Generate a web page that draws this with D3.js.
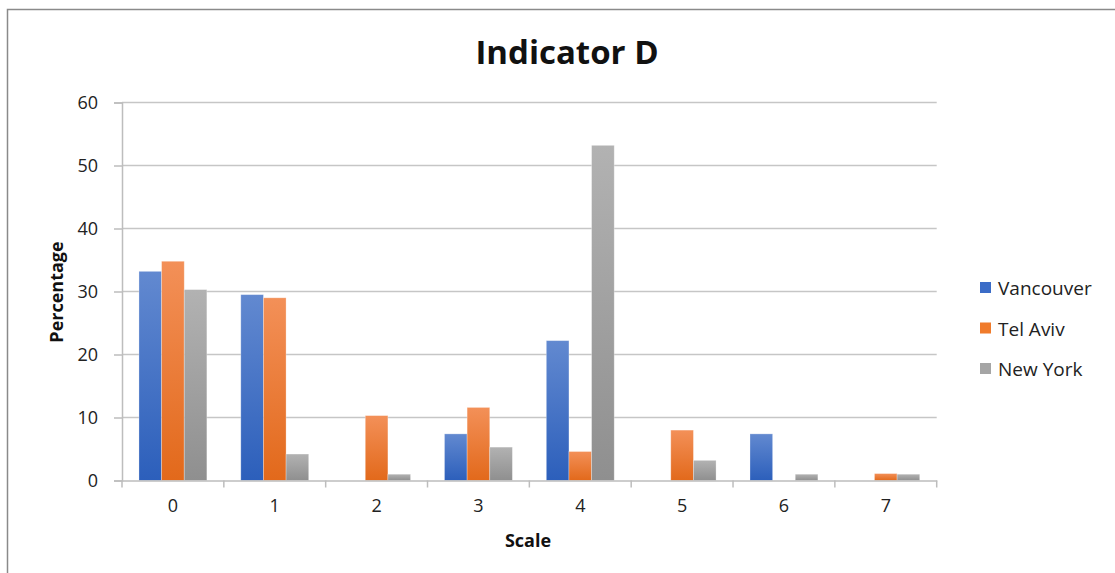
<!DOCTYPE html>
<html><head><meta charset="utf-8">
<script src="https://cdn.jsdelivr.net/npm/d3@7"></script>
<style>body{margin:0;background:#fff;}svg{display:block;}</style>
</head><body>
<svg id="chart" width="1115" height="573"></svg>
<script>
const categories = ["0","1","2","3","4","5","6","7"];
const seriesNames = ["Vancouver","Tel Aviv","New York"];
const vancouver = [33.2, 29.5, 0, 7.4, 22.2, 0, 7.4, 0];
const telAviv   = [34.8, 29.0, 10.3, 11.6, 4.6, 8.0, 0, 1.1];
const newYork   = [30.3, 4.2, 1.0, 5.3, 53.2, 3.2, 1.0, 1.0];
const yTicks = [0,10,20,30,40,50,60];

const seriesValues = [vancouver, telAviv, newYork];
const gradStops = [["#6289d0","#2c5fbb"],["#f39058","#e2691b"],["#b2b2b2","#8f8f8f"]];
const legendColors = ["#3b6cc7","#f07b2b","#a5a5a5"];

const svg = d3.select("#chart");
const font = "'Open Sans', sans-serif";
const L = 122, R = 936.7, T = 102.5, B = 480.5;

// border
svg.append("path").attr("d", `M7.5,573 V9.5 H1115`).attr("fill","none").attr("stroke","#8a8a8a").attr("stroke-width",1.5);

const defs = svg.append("defs");
gradStops.forEach((g,i)=>{
  const lg = defs.append("linearGradient").attr("id","g"+i).attr("x1",0).attr("y1",0).attr("x2",0).attr("y2",1);
  lg.append("stop").attr("offset","0%").attr("stop-color",g[0]);
  lg.append("stop").attr("offset","100%").attr("stop-color",g[1]);
});

const x = d3.scaleBand().domain(categories).range([L,R]).padding(0);
const y = d3.scaleLinear().domain([0,60]).range([B,T]);
const bw = x.bandwidth()/4.5;
const xs = d3.scaleBand().domain(seriesNames).range([0.75*bw, 3.75*bw]).padding(0);

// gridlines
svg.append("g").selectAll("line").data(yTicks.filter(d=>d>0)).join("line")
  .attr("x1",L).attr("x2",R).attr("y1",d=>y(d)).attr("y2",d=>y(d))
  .attr("stroke","#c6c6c6").attr("stroke-width",1.5);

// bars
seriesNames.forEach((s,i)=>{
  svg.append("g").selectAll("rect").data(categories).join("rect")
    .attr("x",(c)=>x(c)+xs(s))
    .attr("width",xs.bandwidth())
    .attr("y",(c,j)=>y(seriesValues[i][j]))
    .attr("height",(c,j)=>B-y(seriesValues[i][j]))
    .attr("fill",`url(#g${i})`)
    .attr("stroke","rgba(255,255,255,0.35)").attr("stroke-width",0.8);
});

// y axis
const yAxis = svg.append("g").attr("transform",`translate(${L},0)`)
  .call(d3.axisLeft(y).tickValues(yTicks).tickSize(8).tickPadding(16).tickFormat(d3.format("d")));
yAxis.select(".domain").attr("stroke","#bdbdbd").attr("stroke-width",1.5);
yAxis.selectAll(".tick line").attr("stroke","#bdbdbd").attr("stroke-width",1.5);
yAxis.selectAll(".tick text").attr("font-family",font).attr("font-size",18).attr("fill","#222");

// x axis
const xAxis = svg.append("g").attr("transform",`translate(0,${B})`)
  .call(d3.axisBottom(x).tickSize(0).tickPadding(19));
xAxis.select(".domain").attr("stroke","#bdbdbd").attr("stroke-width",1.5);
xAxis.selectAll(".tick text").attr("font-family",font).attr("font-size",18).attr("fill","#222");
// category boundary ticks
const bounds = categories.map(c=>x(c)).concat([x(categories[categories.length-1])+x.bandwidth()]);
svg.append("g").selectAll("line").data(bounds).join("line")
  .attr("x1",d=>d).attr("x2",d=>d).attr("y1",B).attr("y2",B+7)
  .attr("stroke","#bdbdbd").attr("stroke-width",1.5);

// titles
svg.append("text").attr("x",567).attr("y",64).attr("text-anchor","middle")
  .attr("font-family",font).attr("font-weight","bold").attr("font-size",33).attr("fill","#111").text("Indicator D");
svg.append("text").attr("x",528).attr("y",547).attr("text-anchor","middle")
  .attr("font-family",font).attr("font-weight","bold").attr("font-size",18).attr("fill","#111").text("Scale");
svg.append("text").attr("transform","translate(63,292) rotate(-90)").attr("text-anchor","middle")
  .attr("font-family",font).attr("font-weight","bold").attr("font-size",18).attr("fill","#111").text("Percentage");

// legend
const lg = svg.append("g");
seriesNames.forEach((s,i)=>{
  const yy = 282 + i*40.5;
  lg.append("rect").attr("x",980).attr("y",yy).attr("width",11).attr("height",11).attr("fill",legendColors[i]);
  lg.append("text").attr("x",998).attr("y",yy+13).attr("font-family",font).attr("font-size",19).attr("fill","#222").text(s);
});
</script>
</body></html>
